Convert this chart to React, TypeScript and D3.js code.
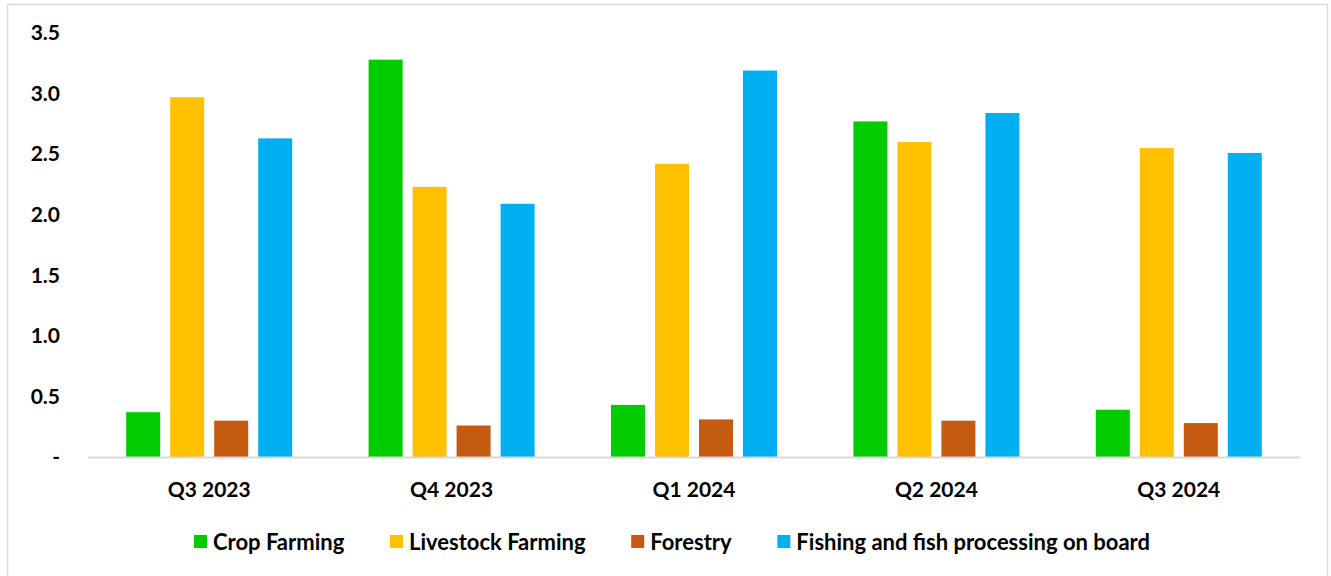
import React, { useEffect, useRef } from "react";
import * as d3 from "d3";

const categories = ["Q3 2023", "Q4 2023", "Q1 2024", "Q2 2024", "Q3 2024"];
const seriesNames = ["Crop Farming", "Livestock Farming", "Forestry", "Fishing and fish processing on board"];
const cropFarming = [0.37, 3.28, 0.43, 2.77, 0.39];
const livestockFarming = [2.97, 2.23, 2.42, 2.60, 2.55];
const forestry = [0.30, 0.26, 0.31, 0.30, 0.28];
const fishing = [2.63, 2.09, 3.19, 2.84, 2.51];
const colors = ["#00CC00", "#FFC000", "#C55A11", "#00B0F0"];
const yTicks = [0, 0.5, 1.0, 1.5, 2.0, 2.5, 3.0, 3.5];

const W = 1331, H = 576;
const FONT = "Lato, 'Open Sans', sans-serif";

export default function App() {
  const ref = useRef<SVGSVGElement>(null);
  useEffect(() => {
    const svg = d3.select(ref.current);
    svg.selectAll("*").remove();
    const series = [cropFarming, livestockFarming, forestry, fishing];
    svg.append("rect").attr("x", 7.5).attr("y", 4.5).attr("width", 1320).attr("height", 580)
      .attr("fill", "white").attr("stroke", "#d9d9d9").attr("stroke-width", 1.5);

    const left = 88, right = 1300, top = 33, bottom = 457;
    const x0 = d3.scaleBand().domain(categories).range([left, right]).paddingInner(0).paddingOuter(0);
    const y = d3.scaleLinear().domain([0, 3.5]).range([bottom, top]);
    const groupW = 166;
    const x1 = d3.scaleBand().domain(seriesNames.map((_, i) => String(i))).range([0, groupW]).paddingInner(10 / 44).paddingOuter(0);

    // y tick labels
    svg.append("g").selectAll("text").data(yTicks).join("text")
      .attr("x", 60).attr("y", d => y(d)).attr("dy", "0.35em")
      .attr("text-anchor", "end").attr("font-family", FONT).attr("font-weight", "bold")
      .attr("font-size", 21).attr("fill", "#000")
      .text(d => (d === 0 ? "-" : d3.format(".1f")(d)));

    // bars
    const g = svg.append("g");
    categories.forEach((c, ci) => {
      const gx = (x0(c) as number) + x0.bandwidth() / 2 - groupW / 2;
      series.forEach((s, si) => {
        g.append("rect")
          .attr("x", gx + (x1(String(si)) as number))
          .attr("y", y(s[ci]))
          .attr("width", x1.bandwidth())
          .attr("height", y(0) - y(s[ci]))
          .attr("fill", colors[si]);
      });
    });

    // axis line
    svg.append("line").attr("x1", left).attr("x2", right).attr("y1", bottom + 0.5).attr("y2", bottom + 0.5)
      .attr("stroke", "#d9d9d9").attr("stroke-width", 2);

    // category labels
    svg.append("g").selectAll("text").data(categories).join("text")
      .attr("x", d => (x0(d) as number) + x0.bandwidth() / 2).attr("y", 497)
      .attr("text-anchor", "middle").attr("font-family", FONT).attr("font-weight", "bold")
      .attr("font-size", 21).attr("fill", "#000").text(d => d);

    // legend
    const lg = svg.append("g");
    const items: { g: any; w: number }[] = [];
    seriesNames.forEach((n, i) => {
      const ig = lg.append("g");
      ig.append("rect").attr("x", 0).attr("y", -7).attr("width", 13).attr("height", 13).attr("fill", colors[i]);
      const t = ig.append("text").attr("x", 19).attr("y", 0).attr("dy", "0.35em")
        .attr("font-family", FONT).attr("font-weight", "bold").attr("font-size", 22).attr("fill", "#000").text(n);
      const tw = (t.node() as SVGTextElement).getComputedTextLength();
      items.push({ g: ig, w: 19 + tw });
    });
    const lStart = 194, lEnd = 1150;
    const sumW = items.reduce((a, b) => a + b.w, 0);
    const gap = Math.max(20, (lEnd - lStart - sumW) / (items.length - 1));
    const total = sumW + gap * (items.length - 1);
    let cx = (lStart + lEnd) / 2 - total / 2;
    items.forEach(it => {
      it.g.attr("transform", `translate(${cx},542)`);
      cx += it.w + gap;
    });
  }, []);
  return (
    <svg ref={ref} width={W} height={H} style={{ position: "absolute", left: 0, top: 0, display: "block" }} />
  );
}
